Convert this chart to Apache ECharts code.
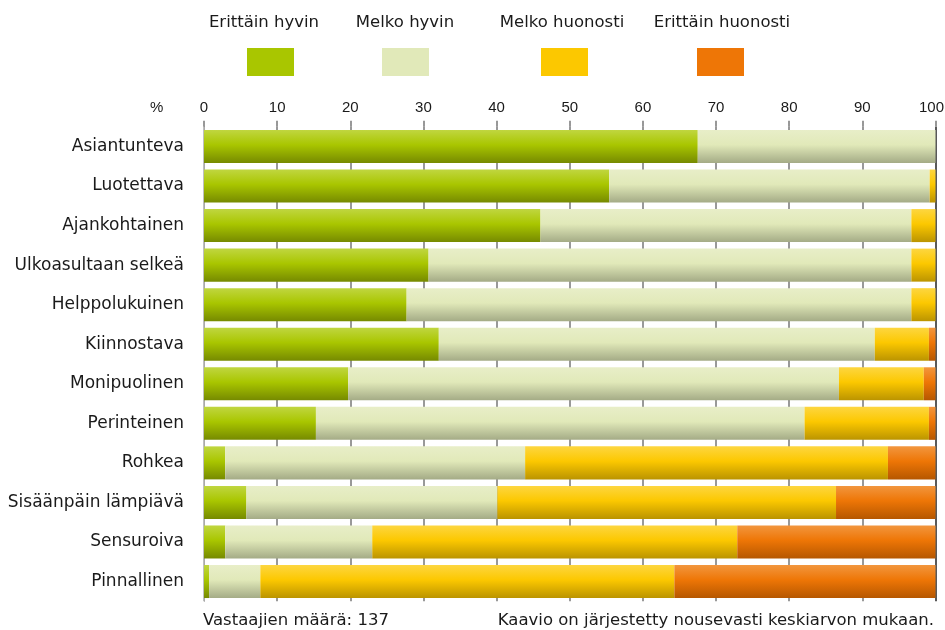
<!DOCTYPE html>
<html lang="fi">
  <head>
    <meta charset="UTF-8" />
    <title>Arviot</title>
    <script src="https://cdn.jsdelivr.net/npm/echarts@6/dist/echarts.min.js"></script>
    <style>
      html, body { margin: 0; padding: 0; background: #fff; }
    </style>
  </head>
  <body>
    <div id="main" style="width: 945px; height: 630px"></div>
    <script>
      var categories = [
        "Asiantunteva", "Luotettava", "Ajankohtainen", "Ulkoasultaan selkeä",
        "Helppolukuinen", "Kiinnostava", "Monipuolinen", "Perinteinen",
        "Rohkea", "Sisäänpäin lämpiävä", "Sensuroiva", "Pinnallinen"
      ];
      var seriesNames = ["Erittäin hyvin", "Melko hyvin", "Melko huonosti", "Erittäin huonosti"];
      var erittainHyvin = [67.5, 55.4, 46.0, 30.7, 27.7, 32.1, 19.7, 15.3, 2.9, 5.8, 2.9, 0.7];
      var melkoHyvin = [32.5, 43.8, 50.7, 66.0, 69.0, 59.6, 67.1, 66.8, 41.0, 34.3, 20.1, 7.0];
      var melkoHuonosti = [0, 0.8, 3.3, 3.3, 3.3, 7.4, 11.6, 17.0, 49.6, 46.3, 49.9, 56.6];
      var erittainHuonosti = [0, 0, 0, 0, 0, 0.9, 1.6, 0.9, 6.5, 13.6, 27.1, 35.7];
      var xTicks = [0, 10, 20, 30, 40, 50, 60, 70, 80, 90, 100];

      var values = [erittainHyvin, melkoHyvin, melkoHuonosti, erittainHuonosti];
      var flat = ["#a9c600", "#e1e9b9", "#fcc800", "#ee7606"];
      var shades = [
        ["#c0d640", "#a9c600", "#768a00"],
        ["#e8eec8", "#e1e9b9", "#a4ab86"],
        ["#fdd640", "#fcc800", "#bb9400"],
        ["#f2963e", "#ee7606", "#b65700"]
      ];

      var font = "DejaVu Sans";
      var digitFont = "Liberation Sans";
      var chart = echarts.init(document.getElementById("main"));

      var series = seriesNames.map(function (name, i) {
        return {
          name: name,
          type: "bar",
          stack: "all",
          barCategoryGap: "16.5%",
          data: values[i],
          itemStyle: {
            color: new echarts.graphic.LinearGradient(0, 0, 0, 1, [
              { offset: 0, color: shades[i][0] },
              { offset: 0.45, color: shades[i][1] },
              { offset: 1, color: shades[i][2] }
            ])
          },
          emphasis: { disabled: true }
        };
      });

      // legend: square below, name above it
      var legendX = [247, 382, 541, 697];
      var legendTextX = [264, 405, 562, 722];
      var legends = seriesNames.map(function (name, i) {
        return {
          left: legendX[i],
          top: 48,
          padding: 0,
          itemWidth: 47,
          itemHeight: 28,
          icon: "rect",
          selectedMode: false,
          formatter: function () { return ""; },
          data: [{ name: name, itemStyle: { color: flat[i] } }]
        };
      });

      var legendTexts = seriesNames.map(function (name, i) {
        return {
          type: "text",
          x: legendTextX[i],
          y: 23,
          style: {
            text: name,
            align: "center",
            verticalAlign: "middle",
            font: "16.5px " + font,
            fill: "#1a1a1a"
          }
        };
      });

      var splitColors = xTicks.map(function (t, i) {
        if (i === 0) return "#aaa";
        if (i === xTicks.length - 1) return "#222";
        return "#777";
      });

      chart.setOption({
        animation: false,
        textStyle: { fontFamily: font },
        grid: {
          left: 204, right: 9.5, top: 126.7, bottom: 28.7,
          containLabel: false, outerBoundsMode: "none"
        },
        legend: legends,
        xAxis: {
          type: "value",
          position: "top",
          min: 0,
          max: 100,
          interval: 10,
          axisLine: { show: false },
          axisTick: { show: true, length: 6, lineStyle: { color: "#777", width: 1.5 } },
          axisLabel: {
            margin: 11, fontSize: 15, color: "#1a1a1a", fontFamily: digitFont,
            formatter: function (v) {
              return v === xTicks[xTicks.length - 1] ? "{last|" + v + "}" : String(v);
            },
            rich: {
              last: { fontSize: 15, fontFamily: digitFont, color: "#1a1a1a", padding: [0, 8, 0, 0] }
            }
          },
          splitLine: { show: true, lineStyle: { color: splitColors, width: 1.5 } }
        },
        yAxis: {
          type: "category",
          inverse: true,
          data: categories,
          axisLine: { show: true, lineStyle: { color: "#aaa" } },
          axisTick: { show: false },
          axisLabel: {
            margin: 20, fontSize: 17, color: "#1a1a1a", fontFamily: font,
            padding: [0, 0, 4, 0]
          }
        },
        series: series,
        graphic: legendTexts.concat([
          {
            type: "text",
            x: 150,
            y: 107.5,
            style: { text: "%", verticalAlign: "middle", font: "15px " + digitFont, fill: "#1a1a1a" }
          },
          {
            type: "text",
            x: 203,
            y: 621,
            style: { text: "Vastaajien määrä: 137", verticalAlign: "middle", font: "16.5px " + font, fill: "#1a1a1a" }
          },
          {
            type: "text",
            x: 934,
            y: 621,
            style: {
              text: "Kaavio on järjestetty nousevasti keskiarvon mukaan.",
              align: "right", verticalAlign: "middle",
              font: "16.5px " + font, fill: "#1a1a1a"
            }
          }
        ])
      });
    </script>
  </body>
</html>
